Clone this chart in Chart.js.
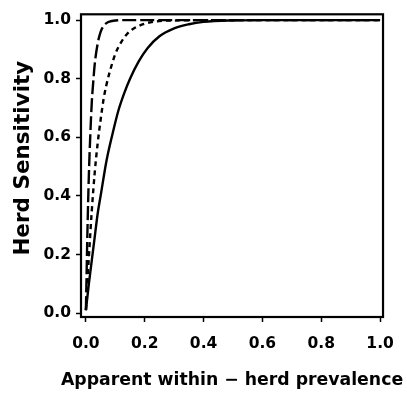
<!DOCTYPE html>
<html>
<head>
<meta charset="utf-8">
<script src="https://cdn.jsdelivr.net/npm/chart.js@4.4.1/dist/chart.umd.min.js"></script>
<style>
  html, body { margin: 0; padding: 0; background: #fff; }
  #wrap { width: 407px; height: 393px; position: relative; }
</style>
</head>
<body>
<div id="wrap"><canvas id="hseChart"></canvas></div>
<script>
/* ── Data ───────────────────────────────────────────────────── */

const xTicks = [0.0, 0.2, 0.4, 0.6, 0.8, 1.0];
const yTicks = [0.0, 0.2, 0.4, 0.6, 0.8, 1.0];
const xTitle = "Apparent within − herd prevalence";
const yTitle = "Herd Sensitivity";

// solid curve
const solidX = [0, 0.01, 0.02, 0.03, 0.04, 0.05, 0.07, 0.09, 0.11, 0.13, 0.15, 0.18, 0.21, 0.25, 0.3, 0.35, 0.4, 0.5, 0.6, 0.8, 1.0];
const solidY = [0.01, 0.10, 0.18, 0.26, 0.34, 0.40, 0.52, 0.61, 0.69, 0.75, 0.80, 0.86, 0.905, 0.945, 0.972, 0.986, 0.994, 0.999, 1.0, 1.0, 1.0];

// short-dashed curve
const shortX = [0, 0.01, 0.02, 0.03, 0.04, 0.05, 0.06, 0.07, 0.08, 0.1, 0.12, 0.14, 0.16, 0.2, 0.25, 0.3, 0.4, 0.6, 0.8, 1.0];
const shortY = [0.01, 0.19, 0.35, 0.48, 0.58, 0.66, 0.73, 0.78, 0.82, 0.885, 0.925, 0.953, 0.97, 0.988, 0.997, 0.999, 1.0, 1.0, 1.0, 1.0];

// long-dashed curve
const longX = [0, 0.005, 0.01, 0.015, 0.02, 0.025, 0.03, 0.04, 0.05, 0.06, 0.07, 0.08, 0.1, 0.12, 0.2, 0.4, 0.6, 0.8, 1.0];
const longY = [0.01, 0.27, 0.47, 0.61, 0.72, 0.79, 0.85, 0.92, 0.96, 0.98, 0.99, 0.995, 0.999, 1.0, 1.0, 1.0, 1.0, 1.0, 1.0];

/* ── Helpers ────────────────────────────────────────────────── */

const FONT = "'DejaVu Sans', 'Liberation Sans', sans-serif";

function toPoints(xs, ys) {
  return xs.map((x, i) => ({ x: x, y: ys[i] }));
}

function curve(label, xs, ys, dash) {
  return {
    label: label,
    data: toPoints(xs, ys),
    borderColor: "#000",
    borderWidth: 2.4,
    borderDash: dash,
    pointRadius: 0,
    showLine: true,
    fill: false,
    cubicInterpolationMode: "monotone",
  };
}

// box round the plot area (R style) + x axis title, drawn unsqueezed
const frameBox = {
  id: "frameBox",
  afterDraw(chart) {
    const { ctx, chartArea: a } = chart;
    ctx.save();
    ctx.strokeStyle = "#000";
    ctx.lineWidth = 2.2;
    ctx.strokeRect(a.left, a.top, a.right - a.left, a.bottom - a.top);

    ctx.fillStyle = "#000";
    ctx.font = "bold 17.3px " + FONT;
    ctx.textAlign = "center";
    ctx.textBaseline = "alphabetic";
    ctx.fillText(xTitle, (a.left + a.right) / 2, chart.height - 8);
    ctx.restore();
  },
};

/* ── Chart ──────────────────────────────────────────────────── */

const tickFont = { family: FONT, size: 15.5, weight: "bold" };

new Chart(document.getElementById("hseChart"), {
  type: "scatter",
  data: {
    datasets: [
      curve("Solid", solidX, solidY, []),
      curve("Short dash", shortX, shortY, [5, 4]),
      curve("Long dash", longX, longY, [14, 4]),
    ],
  },
  options: {
    responsive: true,
    maintainAspectRatio: false,
    animation: false,
    layout: { padding: { left: 0, top: 7, right: 19, bottom: 0 } },
    plugins: { legend: { display: false }, tooltip: { enabled: false } },
    scales: {
      x: {
        type: "linear",
        min: -0.0167,
        max: 1.01,
        afterBuildTicks: s => { s.ticks = xTicks.map(v => ({ value: v })); },
        afterFit: s => { s.height = 76; },
        ticks: { color: "#000", font: tickFont, padding: 13, callback: v => v.toFixed(1), maxRotation: 0 },
        grid: { drawOnChartArea: false, tickLength: 5, tickColor: "#000", tickWidth: 1.5 },
        border: { display: false },
        title: { display: false },
      },
      y: {
        type: "linear",
        min: -0.0133,
        max: 1.02,
        afterBuildTicks: s => { s.ticks = yTicks.map(v => ({ value: v })); },
        afterFit: s => { s.width = 81; },
        ticks: { color: "#000", font: tickFont, padding: 5, callback: v => v.toFixed(1) },
        grid: { drawOnChartArea: false, tickLength: 5, tickColor: "#000", tickWidth: 1.5 },
        border: { display: false },
        title: {
          display: true,
          text: "  " + yTitle,
          color: "#000",
          font: { family: FONT, size: 21.5, weight: "bold" },
          padding: { top: 11, bottom: 0 },
        },
      },
    },
  },
  plugins: [frameBox],
});
</script>
</body>
</html>
